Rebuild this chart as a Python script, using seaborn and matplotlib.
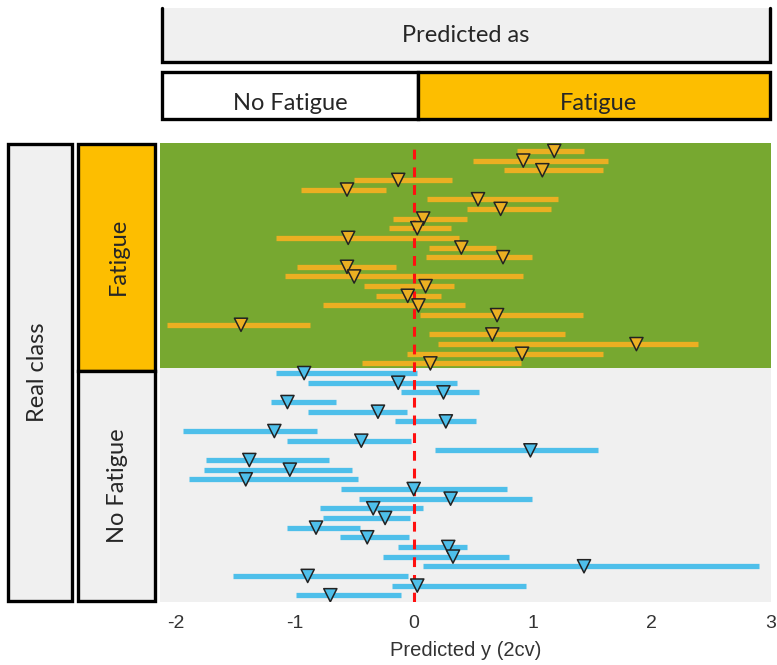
import numpy as np
import pandas as pd
import matplotlib
matplotlib.use("Agg")
import matplotlib.pyplot as plt
from matplotlib.patches import Rectangle
import seaborn as sns

# ---- data ----
fatigue_pred = [1.18, 0.92, 1.08, -0.13, -0.56, 0.54, 0.73, 0.08, 0.03, -0.55, 0.40, 0.75,
                -0.56, -0.50, 0.10, -0.05, 0.04, 0.70, -1.45, 0.66, 1.87, 0.91, 0.14]
fatigue_lo = [0.87, 0.50, 0.76, -0.50, -0.95, 0.11, 0.45, -0.17, -0.21, -1.16, 0.13, 0.10,
              -0.98, -1.08, -0.42, -0.32, -0.76, 0.05, -2.07, 0.13, 0.20, -0.06, -0.43]
fatigue_hi = [1.43, 1.63, 1.59, 0.32, -0.23, 1.21, 1.15, 0.45, 0.31, 0.38, 0.69, 0.99,
              -0.15, 0.92, 0.34, 0.23, 0.43, 1.42, -0.87, 1.27, 2.39, 1.59, 0.90]

nofat_pred = [-0.92, -0.13, 0.25, -1.06, -0.30, 0.27, -1.17, -0.44, 0.98, -1.38, -1.04, -1.41,
              0.00, 0.31, -0.34, -0.24, -0.82, -0.39, 0.29, 0.33, 1.43, -0.89, 0.03, -0.70]
nofat_lo = [-1.16, -0.89, -0.11, -1.20, -0.89, -0.16, -1.94, -1.06, 0.18, -1.74, -1.76, -1.89,
            -0.61, -0.46, -0.79, -0.76, -1.06, -0.62, -0.13, -0.26, 0.08, -1.52, -0.18, -0.99]
nofat_hi = [0.03, 0.36, 0.55, -0.65, -0.06, 0.52, -0.81, -0.02, 1.55, -0.71, -0.52, -0.47,
            0.78, 0.99, 0.08, -0.03, -0.45, -0.04, 0.45, 0.80, 2.90, -0.05, 0.94, -0.11]

x_ticks = [-2, -1, 0, 1, 2, 3]
x_label = "Predicted y (2cv)"

ORANGE = "#EBAF22"
BLUE = "#4EBFEA"
GREEN = "#77A830"
GREY = "#F0F0F0"
HDR_ORANGE = "#FDBE00"

nf = len(fatigue_pred)
nn = len(nofat_pred)
df = pd.DataFrame({
    "row": np.arange(nf + nn),
    "pred": fatigue_pred + nofat_pred,
    "lo": fatigue_lo + nofat_lo,
    "hi": fatigue_hi + nofat_hi,
    "cls": ["Fatigue"] * nf + ["No Fatigue"] * nn,
})

W, H = 777, 665
sns.set_style("white")
plt.rcParams["font.family"] = ["Liberation Sans", "DejaVu Sans"]
fig = plt.figure(figsize=(W / 100, H / 100), dpi=100)

def fx(px):
    return px / W

def fy(py):
    return 1 - py / H

# main axes
L, R, T, B = 160, 771, 143, 602
ax = fig.add_axes([fx(L), fy(B), fx(R - L), (B - T) / H])
ax.set_xlim(-2.13, 3.0)
ax.set_ylim(nf + nn - 0.3, -0.82)
ax.axhspan(-0.82, nf - 0.5, color=GREEN, zorder=0, lw=0)
ax.axhspan(nf - 0.5, nf + nn, color=GREY, zorder=0, lw=0)

pal = {"Fatigue": ORANGE, "No Fatigue": BLUE}
for cls, c in pal.items():
    sub = df[df["cls"] == cls]
    ax.hlines(sub["row"], sub["lo"], sub["hi"], color=c, lw=3.8, zorder=2)

ax.axvline(0, color="#FF1010", lw=2.2, ls=(0, (3.2, 2.6)), zorder=3)

sns.scatterplot(data=df, x="pred", y="row", hue="cls", palette=pal, marker="v",
                s=90, edgecolor="#222222", linewidth=1.1, legend=False, ax=ax, zorder=4)

ax.set_xticks(x_ticks)
ax.set_xticklabels([str(t) for t in x_ticks], fontsize=14, color="#333333")
ax.set_yticks([])
ax.set_ylabel("")
ax.set_xlabel(x_label, fontsize=14.5, color="#333333", labelpad=7)
ax.tick_params(axis="x", length=0, pad=9)
for s in ax.spines.values():
    s.set_visible(False)

# overlay for header boxes
ov = fig.add_axes([0, 0, 1, 1])
ov.set_xlim(0, W)
ov.set_ylim(H, 0)
ov.axis("off")
ov.patch.set_alpha(0)

lw = 2.4
tfont = ["Lato", "DejaVu Sans"]
fs = 17

# "Predicted as"
ov.add_patch(Rectangle((162, 8), 608, 54, facecolor=GREY, edgecolor="none"))
ov.plot([162, 162, 770, 770], [8, 62, 62, 8], color="black", lw=lw, solid_joinstyle="miter")
ov.text(466, 35, "Predicted as", ha="center", va="center", fontsize=fs, family=tfont)

# No Fatigue / Fatigue columns
ov.add_patch(Rectangle((162, 72), 256, 47, facecolor="white", edgecolor="black", lw=lw))
ov.add_patch(Rectangle((418, 72), 352, 47, facecolor=HDR_ORANGE, edgecolor="black", lw=lw))
ov.text(290, 104, "No Fatigue", ha="center", va="center", fontsize=fs, family=tfont)
ov.text(598, 104, "Fatigue", ha="center", va="center", fontsize=fs, family=tfont)

# Real class
ov.add_patch(Rectangle((8, 144), 64, 457, facecolor=GREY, edgecolor="black", lw=lw))
ov.text(38, 372, "Real class", ha="center", va="center", rotation=90, fontsize=fs, family=tfont)

ov.add_patch(Rectangle((78, 144), 77, 227, facecolor=HDR_ORANGE, edgecolor="black", lw=lw))
ov.text(118, 256, "Fatigue", ha="center", va="center", rotation=90, fontsize=fs, family=tfont)
ov.add_patch(Rectangle((78, 371), 77, 230, facecolor=GREY, edgecolor="black", lw=lw))
ov.text(118, 486, "No Fatigue", ha="center", va="center", rotation=90, fontsize=fs, family=tfont)

fig.savefig("out.png", dpi=100)
